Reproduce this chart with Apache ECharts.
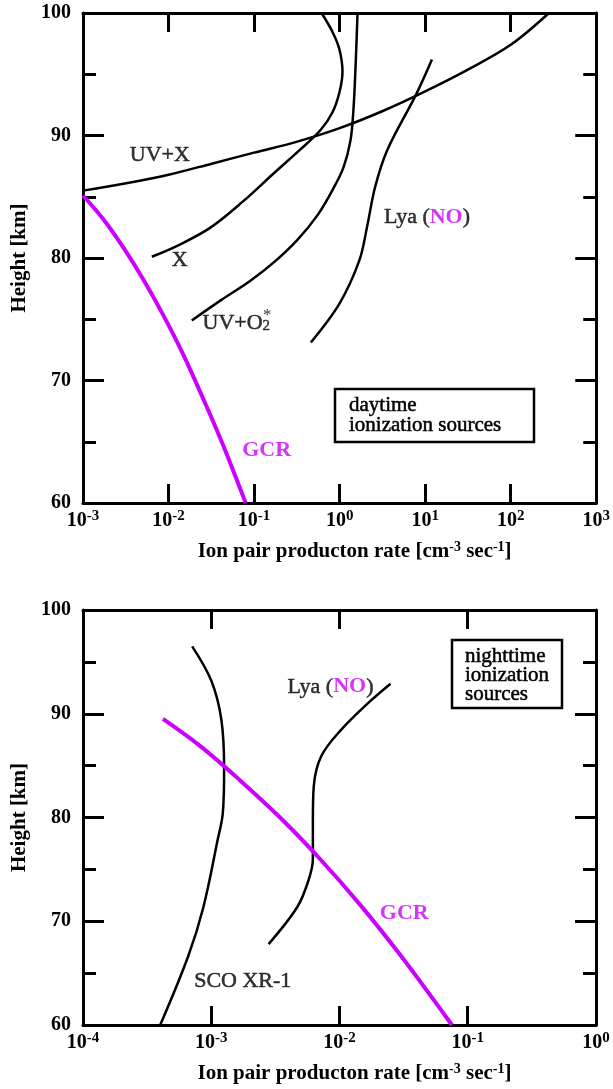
<!DOCTYPE html>
<html>
<head>
<meta charset="utf-8">
<script src="https://cdn.jsdelivr.net/npm/echarts@6/dist/echarts.min.js"></script>
<style>
  html, body { margin: 0; padding: 0; background: #fff; }
  #chart { width: 613px; height: 1089px; }
</style>
</head>
<body>
<div id="chart"></div>
<script>
// Ion pair production rate [cm^-3 s^-1] versus height [km]
// Each curve: [rate, height] pairs

// --- daytime ionization sources ---
const dayUVX = [[0.001, 85.5], [0.0032, 86.1], [0.01, 86.8], [0.032, 87.7], [0.1, 88.6], [0.32, 89.5],
  [1.0, 90.6], [3.2, 92.0], [10, 93.6], [32, 95.4], [100, 97.4], [280, 100]];
const dayX = [[0.00638, 80.1], [0.01355, 81.1], [0.0312, 82.5], [0.0737, 84.6], [0.169, 86.9],
  [0.34, 88.8], [0.598, 90.45], [0.826, 91.9], [0.997, 93.55], [1.08, 95.2], [0.997, 97.0],
  [0.826, 98.45], [0.615, 100]];
const dayUVO2 = [[0.0187, 74.9], [0.0419, 76.6], [0.0889, 78.1], [0.174, 79.7], [0.323, 81.5],
  [0.552, 83.5], [0.826, 85.55], [1.11, 87.4], [1.34, 89.6], [1.45, 92.1], [1.53, 95.35], [1.62, 100]];
const dayLya = [[0.46, 73.1], [1.0, 76.3], [1.7, 79.8], [2.1, 82.6], [2.6, 85.8], [3.6, 88.8],
  [7.9, 93.4], [12, 96.2]];
const dayGCR = [[0.001, 85.1], [0.00171, 83.2], [0.00293, 80.9], [0.00501, 78.3], [0.00858, 75.4],
  [0.01468, 72.2], [0.0251, 68.6], [0.043, 64.8], [0.0798, 60.0]];

// --- nighttime ionization sources ---
const nightSCO = [[0.00071, 96.5], [0.001, 93.2], [0.0012, 89.4], [0.00126, 84.6], [0.00123, 80.4],
  [0.00112, 77.8], [0.00087, 71.4], [0.00066, 66.6], [0.0004, 60.0]];
const nightLya = [[0.0028, 67.8], [0.0047, 71.4], [0.00575, 74.0], [0.0062, 76.0], [0.0062, 79.8],
  [0.0063, 83.0], [0.0072, 85.9], [0.0102, 88.4], [0.0166, 91.0], [0.025, 92.9]];
const nightGCR = [[0.00042, 89.5], [0.000817, 86.9], [0.00167, 83.6], [0.00344, 80.0], [0.00705, 76.0],
  [0.01445, 71.6], [0.0296, 66.8], [0.0508, 62.9], [0.0753, 60.0]];

// Axis ranges
const dayXRange = [0.001, 1000];
const nightXRange = [0.0001, 1];
const heightRange = [60, 100];
const heightStep = 10;

const BLACK = '#000000';
const MAGENTA = '#cc00ff';
const SERIF = '"Liberation Serif", "DejaVu Serif", serif';

const labelRich = {
  t: { fontFamily: SERIF, fontSize: 22, color: BLACK, textBorderColor: BLACK, textBorderWidth: 0.5 },
  m: { fontFamily: SERIF, fontSize: 22, color: MAGENTA, fontWeight: 'bold' },
  sub: { fontFamily: SERIF, fontSize: 15, color: BLACK, verticalAlign: 'bottom', lineHeight: 14,
    textBorderColor: BLACK, textBorderWidth: 0.4 },
  sup: { fontFamily: SERIF, fontSize: 17, color: BLACK, lineHeight: 16 }
};

function powerLabel(v) {
  const e = Math.round(Math.log10(v));
  return '{b|10}{s|' + e + '}';
}
const powerRich = {
  b: { fontFamily: SERIF, fontSize: 20, fontWeight: 'bold', color: BLACK, lineHeight: 24 },
  s: { fontFamily: SERIF, fontSize: 15, fontWeight: 'bold', color: BLACK, verticalAlign: 'top', lineHeight: 14 }
};
const titleRich = {
  a: { fontFamily: SERIF, fontSize: 21, fontWeight: 'bold', color: BLACK, lineHeight: 24 },
  s: { fontFamily: SERIF, fontSize: 14, fontWeight: 'bold', color: BLACK, verticalAlign: 'top', lineHeight: 13 }
};
const xTitle = '{a|Ion pair producton rate [cm}{s|-3}{a| sec}{s|-1}{a|]}';

function xAxisPair(gridIndex, range) {
  const common = {
    type: 'log', logBase: 10, gridIndex: gridIndex, min: range[0], max: range[1],
    axisLine: { show: true, lineStyle: { color: BLACK, width: 3 } },
    axisTick: { show: true, inside: true, length: 19, lineStyle: { color: BLACK, width: 3 } },
    minorTick: { show: false },
    splitLine: { show: false }
  };
  return [
    Object.assign({}, common, {
      position: 'bottom',
      axisLabel: { show: true, formatter: powerLabel, rich: powerRich, margin: 6, showMinLabel: true, showMaxLabel: true },
      name: xTitle, nameLocation: 'middle', nameGap: 37,
      nameTextStyle: { rich: titleRich, padding: [0, 0, 0, 30] }
    }),
    Object.assign({}, common, { position: 'top', axisLabel: { show: false } })
  ];
}

function yAxisPair(gridIndex) {
  const common = {
    type: 'value', gridIndex: gridIndex, min: heightRange[0], max: heightRange[1], interval: heightStep,
    axisLine: { show: true, lineStyle: { color: BLACK, width: 3 } },
    axisTick: { show: true, inside: true, length: 21, lineStyle: { color: BLACK, width: 3 } },
    minorTick: { show: true, splitNumber: 2, length: 13, lineStyle: { color: BLACK, width: 3 } },
    splitLine: { show: false }
  };
  return [
    Object.assign({}, common, {
      position: 'left',
      axisLabel: { show: true, margin: 12, fontFamily: SERIF, fontSize: 20, fontWeight: 'bold', color: BLACK },
      name: 'Height [km]', nameLocation: 'middle', nameGap: 52, nameRotate: 90,
      nameTextStyle: { fontFamily: SERIF, fontSize: 21, fontWeight: 'bold', color: BLACK }
    }),
    Object.assign({}, common, { position: 'right', axisLabel: { show: false } })
  ];
}

function curve(data, xi, yi, color, width) {
  return {
    type: 'line', data: data, xAxisIndex: xi, yAxisIndex: yi,
    showSymbol: false, symbol: 'none', smooth: 0.35, silent: true,
    lineStyle: { color: color, width: width }
  };
}

function labels(items, xi, yi) {
  return {
    type: 'scatter', xAxisIndex: xi, yAxisIndex: yi, symbolSize: 1, silent: true,
    itemStyle: { color: 'rgba(0,0,0,0)' },
    label: { show: true, position: 'inside', color: BLACK, rich: labelRich },
    data: items.map(function (it) {
      return { value: [it[0], it[1]], label: { formatter: it[2], offset: it[3] || [0, 0] } };
    })
  };
}

const dayLabels = [
  [0.0079, 88.4, '{t|UV+X}'],
  [0.0135, 79.8, '{t|X}'],
  [0.062, 74.7, '{t|UV+O}{sub|2}'],
  [0.062, 74.7, '{sup|*}', [31, -7]],
  [10.5, 83.3, '{t|Lya (}{m|NO}{t|)}'],
  [0.14, 64.3, '{m|GCR}']
];
const nightLabels = [
  [0.0085, 92.6, '{t|Lya (}{m|NO}{t|)}'],
  [0.032, 70.8, '{m|GCR}'],
  [0.00176, 64.2, '{t|SCO XR-1}']
];

const boxFont = '21px ' + SERIF;

const chart = echarts.init(document.getElementById('chart'), null, { renderer: 'canvas' });

chart.setOption({
  animation: false,
  backgroundColor: '#ffffff',
  grid: [
    { left: 83, top: 13, width: 514, height: 490 },
    { left: 83, top: 610, width: 513, height: 415 }
  ],
  xAxis: xAxisPair(0, dayXRange).concat(xAxisPair(1, nightXRange)),
  yAxis: yAxisPair(0).concat(yAxisPair(1)),
  series: [
    curve(dayUVX, 0, 0, BLACK, 2.5),
    curve(dayX, 0, 0, BLACK, 2.5),
    curve(dayUVO2, 0, 0, BLACK, 2.5),
    curve(dayLya, 0, 0, BLACK, 2.5),
    curve(dayGCR, 0, 0, MAGENTA, 4),
    labels(dayLabels, 0, 0),
    curve(nightSCO, 2, 2, BLACK, 2.5),
    curve(nightLya, 2, 2, BLACK, 2.5),
    curve(nightGCR, 2, 2, MAGENTA, 4),
    labels(nightLabels, 2, 2)
  ],
  graphic: [
    { type: 'rect', shape: { x: 335, y: 389, width: 199, height: 53 },
      style: { fill: 'none', stroke: BLACK, lineWidth: 2.5 } },
    { type: 'text', x: 349, y: 395,
      style: { text: 'daytime\nionization sources', font: boxFont, lineHeight: 20, fill: BLACK,
        stroke: BLACK, lineWidth: 0.5 } },
    { type: 'rect', shape: { x: 452, y: 640, width: 110, height: 68 },
      style: { fill: 'none', stroke: BLACK, lineWidth: 2.5 } },
    { type: 'text', x: 465, y: 647,
      style: { text: 'nighttime\nionization\nsources', font: boxFont, lineHeight: 19, fill: BLACK,
        stroke: BLACK, lineWidth: 0.5 } }
  ]
});
</script>
</body>
</html>
